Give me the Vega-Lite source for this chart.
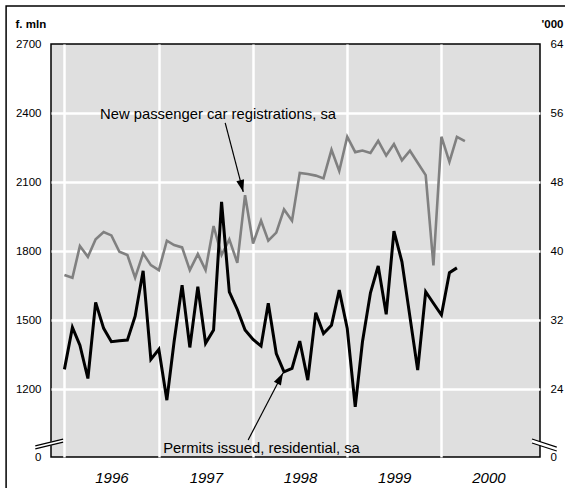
{
  "$schema": "https://vega.github.io/schema/vega-lite/v6.json",
  "width": 489,
  "height": 413,
  "autosize": {"type": "none"},
  "padding": {"left": 51, "top": 44, "right": 25, "bottom": 31},
  "background": "white",
  "config": {
    "font": "Liberation Sans",
    "view": {"fill": "#dfdfdf", "stroke": "black", "strokeWidth": 1.5}
  },
  "datasets": {
    "cars": [
      {"date": "1996-01-01", "value": 1696}, {"date": "1996-02-01", "value": 1684}, {"date": "1996-03-01", "value": 1822},
      {"date": "1996-04-01", "value": 1775}, {"date": "1996-05-01", "value": 1851}, {"date": "1996-06-01", "value": 1883},
      {"date": "1996-07-01", "value": 1868}, {"date": "1996-08-01", "value": 1797}, {"date": "1996-09-01", "value": 1783},
      {"date": "1996-10-01", "value": 1684}, {"date": "1996-11-01", "value": 1790}, {"date": "1996-12-01", "value": 1739},
      {"date": "1997-01-01", "value": 1717}, {"date": "1997-02-01", "value": 1845}, {"date": "1997-03-01", "value": 1826},
      {"date": "1997-04-01", "value": 1816}, {"date": "1997-05-01", "value": 1717}, {"date": "1997-06-01", "value": 1787},
      {"date": "1997-07-01", "value": 1717}, {"date": "1997-08-01", "value": 1909}, {"date": "1997-09-01", "value": 1783},
      {"date": "1997-10-01", "value": 1851}, {"date": "1997-11-01", "value": 1749}, {"date": "1997-12-01", "value": 2043},
      {"date": "1998-01-01", "value": 1833}, {"date": "1998-02-01", "value": 1932}, {"date": "1998-03-01", "value": 1845},
      {"date": "1998-04-01", "value": 1880}, {"date": "1998-05-01", "value": 1981}, {"date": "1998-06-01", "value": 1932},
      {"date": "1998-07-01", "value": 2140}, {"date": "1998-08-01", "value": 2135}, {"date": "1998-09-01", "value": 2128},
      {"date": "1998-10-01", "value": 2116}, {"date": "1998-11-01", "value": 2240}, {"date": "1998-12-01", "value": 2148},
      {"date": "1999-01-01", "value": 2297}, {"date": "1999-02-01", "value": 2230}, {"date": "1999-03-01", "value": 2237},
      {"date": "1999-04-01", "value": 2226}, {"date": "1999-05-01", "value": 2279}, {"date": "1999-06-01", "value": 2215},
      {"date": "1999-07-01", "value": 2265}, {"date": "1999-08-01", "value": 2194}, {"date": "1999-09-01", "value": 2236},
      {"date": "1999-10-01", "value": 2184}, {"date": "1999-11-01", "value": 2130}, {"date": "1999-12-01", "value": 1738},
      {"date": "2000-01-01", "value": 2297}, {"date": "2000-02-01", "value": 2188}, {"date": "2000-03-01", "value": 2296},
      {"date": "2000-04-01", "value": 2278}
    ],
    "permits": [
      {"date": "1996-01-01", "value": 26.29}, {"date": "1996-02-01", "value": 31.15}, {"date": "1996-03-01", "value": 29.09},
      {"date": "1996-04-01", "value": 25.23}, {"date": "1996-05-01", "value": 34.05}, {"date": "1996-06-01", "value": 31.04},
      {"date": "1996-07-01", "value": 29.49}, {"date": "1996-08-01", "value": 29.6}, {"date": "1996-09-01", "value": 29.68},
      {"date": "1996-10-01", "value": 32.45}, {"date": "1996-11-01", "value": 37.71}, {"date": "1996-12-01", "value": 27.44},
      {"date": "1997-01-01", "value": 28.61}, {"date": "1997-02-01", "value": 22.72}, {"date": "1997-03-01", "value": 29.49},
      {"date": "1997-04-01", "value": 36.05}, {"date": "1997-05-01", "value": 28.83}, {"date": "1997-06-01", "value": 35.87},
      {"date": "1997-07-01", "value": 29.31}, {"date": "1997-08-01", "value": 30.85}, {"date": "1997-09-01", "value": 45.71},
      {"date": "1997-10-01", "value": 35.28}, {"date": "1997-11-01", "value": 33.23}, {"date": "1997-12-01", "value": 30.85},
      {"date": "1998-01-01", "value": 29.76}, {"date": "1998-02-01", "value": 28.99}, {"date": "1998-03-01", "value": 33.95},
      {"date": "1998-04-01", "value": 28.13}, {"date": "1998-05-01", "value": 26.0}, {"date": "1998-06-01", "value": 26.4},
      {"date": "1998-07-01", "value": 29.57}, {"date": "1998-08-01", "value": 25.04}, {"date": "1998-09-01", "value": 32.85},
      {"date": "1998-10-01", "value": 30.45}, {"date": "1998-11-01", "value": 31.41}, {"date": "1998-12-01", "value": 35.47},
      {"date": "1999-01-01", "value": 31.04}, {"date": "1999-02-01", "value": 21.95}, {"date": "1999-03-01", "value": 29.49},
      {"date": "1999-04-01", "value": 35.17}, {"date": "1999-05-01", "value": 38.27}, {"date": "1999-06-01", "value": 32.67},
      {"date": "1999-07-01", "value": 42.32}, {"date": "1999-08-01", "value": 38.75}, {"date": "1999-09-01", "value": 32.37},
      {"date": "1999-10-01", "value": 26.21}, {"date": "1999-11-01", "value": 35.28}, {"date": "1999-12-01", "value": 33.95},
      {"date": "2000-01-01", "value": 32.59}, {"date": "2000-02-01", "value": 37.49}, {"date": "2000-03-01", "value": 38.05}
    ]
  },
  "layer": [
    {
      "layer": [
        {
          "data": {"name": "cars"},
          "mark": {"type": "line", "color": "#808080", "strokeWidth": 2.6, "strokeJoin": "miter"},
          "encoding": {
            "x": {
              "field": "date", "type": "temporal",
              "scale": {"type": "utc", "domain": [{"year": 1995, "month": 11, "date": 10, "utc": true}, {"year": 2001, "month": 1, "date": 17, "utc": true}]},
              "axis": {
                "title": null,
                "values": [
                  {"year": 1996, "month": 1, "date": 1, "utc": true},
                  {"year": 1997, "month": 1, "date": 1, "utc": true},
                  {"year": 1998, "month": 1, "date": 1, "utc": true},
                  {"year": 1999, "month": 1, "date": 1, "utc": true},
                  {"year": 2000, "month": 1, "date": 1, "utc": true}
                ],
                "labelExpr": "utcFormat(datum.value, '%Y')",
                "labelOffset": 47,
                "labelPadding": 13,
                "labelFontSize": 15,
                "labelFontStyle": "italic",
                "labelColor": "black",
                "ticks": false,
                "domain": false,
                "grid": true,
                "gridColor": "white",
                "gridWidth": 2.5,
                "gridOpacity": 1
              }
            },
            "y": {
              "field": "value", "type": "quantitative",
              "scale": {"domain": [905, 2700], "nice": false, "zero": false},
              "axis": {
                "title": "f. mln",
                "titleAngle": 0,
                "titleAlign": "left",
                "titleBaseline": "middle",
                "titleX": -36,
                "titleY": -20,
                "titleFontSize": 11.5,
                "titleFontWeight": "bold",
                "titleColor": "black",
                "values": [905, 1200, 1500, 1800, 2100, 2400, 2700],
                "format": "d",
                "labelExpr": "datum.value < 1000 ? '0' : datum.label",
                "labelFontSize": 11.5,
                "labelColor": "black",
                "labelPadding": 10,
                "ticks": false,
                "domain": false,
                "grid": true,
                "gridColor": "white",
                "gridWidth": 2.5,
                "gridOpacity": {"condition": {"test": "datum.value < 1000 || datum.value > 2600", "value": 0}, "value": 1}
              }
            }
          }
        },
        {
          "data": {"values": [
            {"x1": "1995-05-20", "x2": "2001-05-05", "y1": 2865, "y2": 757}
          ]},
          "mark": {"type": "rect", "fill": null, "fillOpacity": 0, "stroke": "black", "strokeWidth": 1.5},
          "encoding": {
            "x": {"field": "x1", "type": "temporal", "scale": {"type": "utc", "domain": [{"year": 1995, "month": 11, "date": 10, "utc": true}, {"year": 2001, "month": 1, "date": 17, "utc": true}]}},
            "x2": {"field": "x2"},
            "y": {"field": "y1", "type": "quantitative", "scale": {"domain": [905, 2700], "nice": false, "zero": false}},
            "y2": {"field": "y2"}
          }
        },
        {
          "data": {"values": [
            {"x1": "1995-09-10", "x2": "1995-12-27", "y1": 946, "y2": 977},
            {"x1": "2000-12-17", "x2": "2001-03-23", "y1": 974, "y2": 940}
          ]},
          "mark": {"type": "rule", "color": "white", "strokeWidth": 3.5},
          "encoding": {
            "x": {"field": "x1", "type": "temporal", "scale": {"type": "utc", "domain": [{"year": 1995, "month": 11, "date": 10, "utc": true}, {"year": 2001, "month": 1, "date": 17, "utc": true}]}},
            "x2": {"field": "x2"},
            "y": {"field": "y1", "type": "quantitative", "scale": {"domain": [905, 2700], "nice": false, "zero": false}},
            "y2": {"field": "y2"}
          }
        },
        {
          "data": {"values": [
            {"x1": "1995-09-10", "x2": "1995-12-27", "y1": 953, "y2": 983},
            {"x1": "1995-09-10", "x2": "1995-12-27", "y1": 940, "y2": 970},
            {"x1": "2000-12-17", "x2": "2001-03-23", "y1": 983, "y2": 948},
            {"x1": "2000-12-17", "x2": "2001-03-23", "y1": 966, "y2": 931},
            {"x1": "1997-09-15", "x2": "1997-11-24", "y1": 2357, "y2": 2057},
            {"x1": "1997-12-13", "x2": "1998-04-27", "y1": 979, "y2": 1270}
          ]},
          "mark": {"type": "rule", "color": "black", "strokeWidth": 1.2},
          "encoding": {
            "x": {"field": "x1", "type": "temporal", "scale": {"type": "utc", "domain": [{"year": 1995, "month": 11, "date": 10, "utc": true}, {"year": 2001, "month": 1, "date": 17, "utc": true}]}},
            "x2": {"field": "x2"},
            "y": {"field": "y1", "type": "quantitative", "scale": {"domain": [905, 2700], "nice": false, "zero": false}},
            "y2": {"field": "y2"}
          }
        },
        {
          "data": {"values": [
            {"x": "1997-11-24", "y": 2057, "angle": 345.4},
            {"x": "1998-04-27", "y": 1270, "angle": 207.6}
          ]},
          "mark": {"type": "point", "shape": "M0,0L-0.33,-1L0.33,-1Z", "filled": true, "color": "black", "size": 576, "opacity": 1},
          "encoding": {
            "x": {"field": "x", "type": "temporal", "scale": {"type": "utc", "domain": [{"year": 1995, "month": 11, "date": 10, "utc": true}, {"year": 2001, "month": 1, "date": 17, "utc": true}]}},
            "y": {"field": "y", "type": "quantitative", "scale": {"domain": [905, 2700], "nice": false, "zero": false}},
            "angle": {"field": "angle", "type": "quantitative", "scale": null}
          }
        },
        {
          "data": {"values": [
            {"x": "1996-05-18", "y": 2391, "label": "New passenger car registrations, sa"},
            {"x": "1997-01-18", "y": 940, "label": "Permits issued, residential, sa"}
          ]},
          "mark": {"type": "text", "align": "left", "baseline": "middle", "fontSize": 14.8, "color": "black"},
          "encoding": {
            "x": {"field": "x", "type": "temporal", "scale": {"type": "utc", "domain": [{"year": 1995, "month": 11, "date": 10, "utc": true}, {"year": 2001, "month": 1, "date": 17, "utc": true}]}},
            "y": {"field": "y", "type": "quantitative", "scale": {"domain": [905, 2700], "nice": false, "zero": false}},
            "text": {"field": "label"}
          }
        }
      ]
    },
    {
      "data": {"name": "permits"},
      "mark": {"type": "line", "color": "black", "strokeWidth": 3, "strokeJoin": "miter"},
      "encoding": {
        "x": {"field": "date", "type": "temporal", "scale": {"type": "utc", "domain": [{"year": 1995, "month": 11, "date": 10, "utc": true}, {"year": 2001, "month": 1, "date": 17, "utc": true}]}},
        "y": {
          "field": "value", "type": "quantitative",
          "scale": {"domain": [16.13, 64], "nice": false, "zero": false},
          "axis": {
            "orient": "right",
            "title": "'000",
            "titleAngle": 0,
            "titleAlign": "left",
            "titleBaseline": "middle",
            "titleX": 1,
            "titleY": -20,
            "titleFontSize": 11.5,
            "titleFontWeight": "bold",
            "titleColor": "black",
            "values": [16.13, 24, 32, 40, 48, 56, 64],
            "format": "d",
            "labelExpr": "datum.value < 20 ? '0' : datum.label",
            "labelFontSize": 11.5,
            "labelColor": "black",
            "labelPadding": 10,
            "ticks": false,
            "domain": false,
            "grid": false
          }
        }
      }
    }
  ],
  "resolve": {"scale": {"y": "independent"}}
}
